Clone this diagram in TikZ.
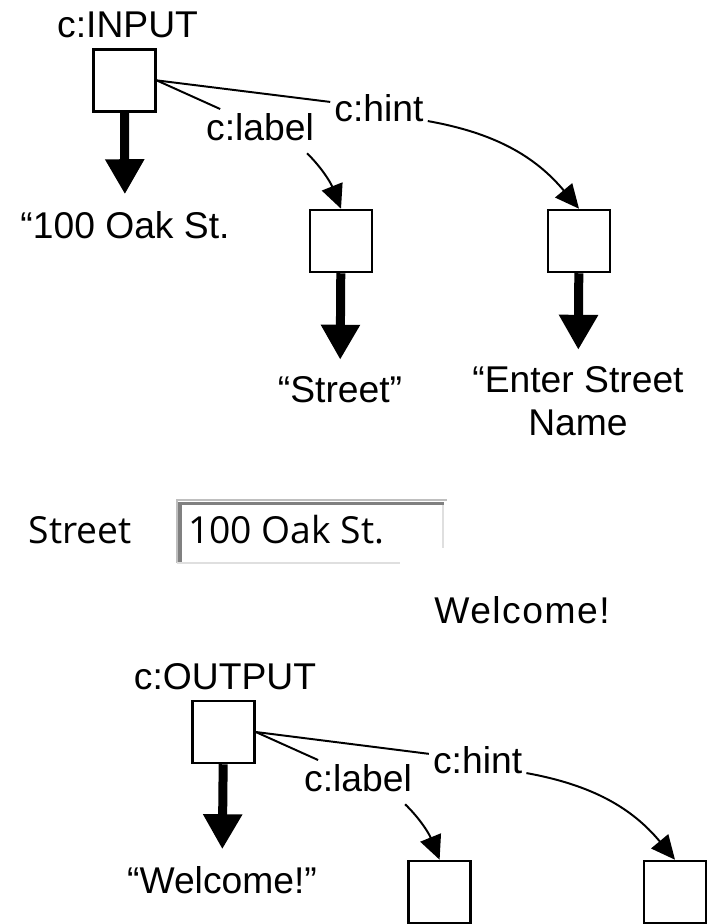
\documentclass[tikz,border=0pt]{standalone}
\usepackage{fontspec}
\setmainfont{Liberation Sans}
\newfontfamily\uifont{Open Sans}
\usetikzlibrary{arrows.meta}

\begin{document}
\begin{tikzpicture}[
  txt/.style={font=\fontsize{26.5}{30.6}\selectfont, inner sep=0.1cm},
  ui/.style={font=\uifont\fontsize{26.5}{30}\selectfont, inner sep=0.1cm},
  val/.style={txt, inner ysep=0.42cm, align=center},
  box/.style={draw, line width=1.8pt, minimum size=1.55cm, inner sep=0pt},
  link/.style={line width=1.4pt},
  pointer/.style={link, -{Triangle[length=0.6cm,width=0.55cm]}},
  bigarrow/.style={line width=6.4pt, -{Triangle[length=0.875cm,width=0.925cm]}}]
\useasboundingbox (0,0) rectangle (17.7,23.1);
% input element and its children
\node[txt] (intag) at (3.19,22.475) {c:INPUT};
\node[box] (in) at (3.11,21.09) {};
\node[val] (v1) at (3.125,17.475) {“100 Oak St.};
\node[txt] (lab1) at (6.5,19.925) {c:label};
\node[txt] (hint1) at (9.475,20.4) {c:hint};
\node[box] (b2) at (8.525,17.075) {};
\node[box] (b3) at (14.475,17.075) {};
\node[val] (v2) at (8.5,13.35) {“Street”};
\node[val] (v3) at (14.45,13.06) {“Enter Street\\Name};
  \draw[bigarrow] (in) -- (v1);
  \draw[link] (in.east) -- (lab1);
  \draw[link] (in.east) -- (hint1);
  \draw[pointer, shorten <=0.3cm] (lab1.-25) to[bend left=12] (b2.north);
  \draw[pointer] (hint1.-15) to[bend left=20] (b3.north);
  \draw[bigarrow] (b2) -- (v2);
  \draw[bigarrow] (b3) -- (v3);
% rendered text field
\node[ui] (street) at (2.01,9.85) {Street};
\node[ui, anchor=west, inner sep=0pt] (field) at (4.7,9.85) {100 Oak St.};
  \draw[line width=1.2pt, gray!50] (4.425,9.025) -- (4.425,10.6) -- (11.175,10.6);
  \draw[line width=2.2pt, gray] (4.5,9.025) -- (4.5,10.51) -- (11.1,10.51);
  \draw[line width=1.5pt, gray!25] (11.075,10.475) -- (11.075,9.4);
  \draw[line width=1.5pt, gray!25] (4.425,9.025) -- (10.0,9.025);
\node[txt] (greet) at (13.05,7.85) {\addfontfeatures{LetterSpace=4}Welcome!};
% output element and its children
\node[txt] (outtag) at (5.625,6.175) {c:OUTPUT};
\node[box] (out) at (5.5875,4.8) {};
\node[val] (v4) at (5.55,1.1) {“Welcome!”};
\node[txt] (lab2) at (8.95,3.65) {c:label};
\node[txt] (hint2) at (11.94,4.1) {c:hint};
\node[box] (b5) at (10.99,0.8) {};
\node[box] (b6) at (16.875,0.8) {};
  \draw[bigarrow] (out) -- (v4);
  \draw[link] (out.east) -- (lab2);
  \draw[link] (out.east) -- (hint2);
  \draw[pointer, shorten <=0.3cm] (lab2.-25) to[bend left=12] (b5.north);
  \draw[pointer] (hint2.-15) to[bend left=20] (b6.north);
\end{tikzpicture}
\end{document}
